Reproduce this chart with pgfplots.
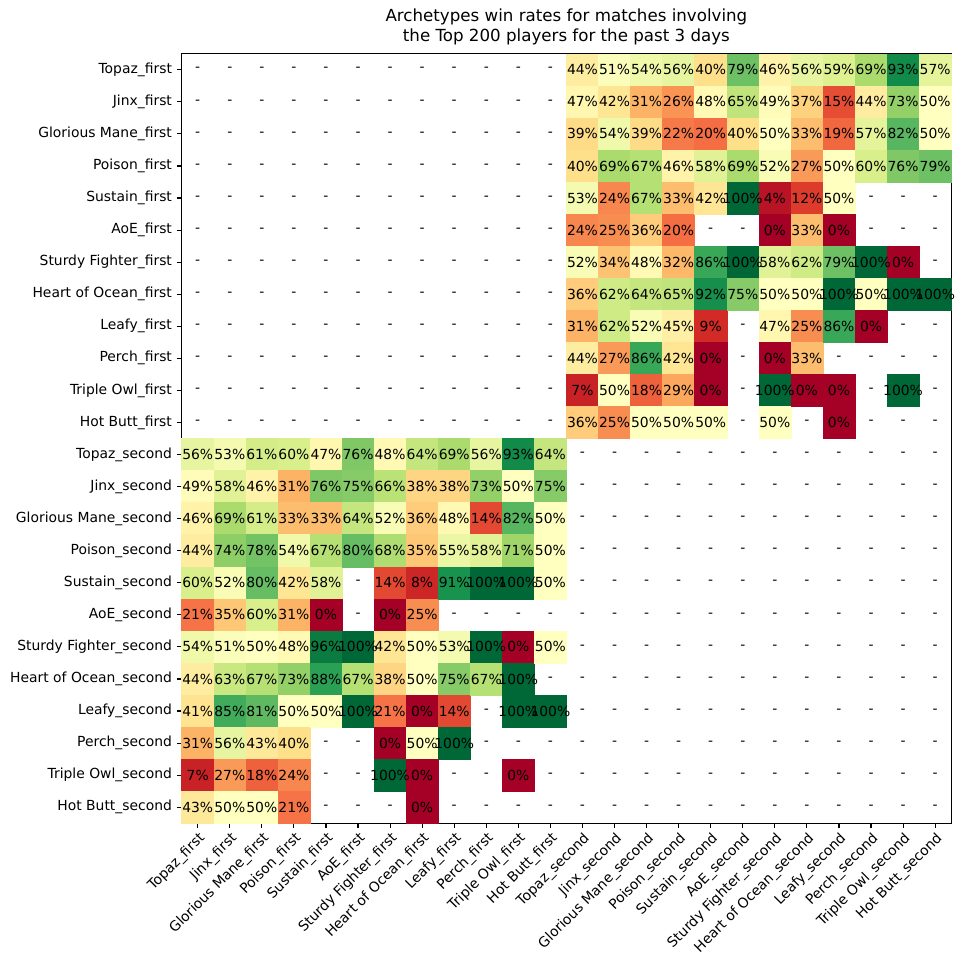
\documentclass[border=0pt]{standalone}
\usepackage{fontspec}
\setmainfont{DejaVu Sans}
\usepackage{pgfplots}
\usepackage{pgfplotstable}
\pgfplotsset{compat=1.18}

% ColorBrewer red-yellow-green diverging scale
\pgfplotsset{colormap={RdYlGn}{
  rgb255=(165,0,38) rgb255=(215,48,39) rgb255=(244,109,67) rgb255=(253,174,97)
  rgb255=(254,224,139) rgb255=(255,255,191) rgb255=(217,239,139) rgb255=(166,217,106)
  rgb255=(102,189,99) rgb255=(26,152,80) rgb255=(0,104,55)}}

% Win rates in percent: row r = archetype of the player, column cJ = archetype faced.
% Indices 0-11 are the *_first archetypes, 12-23 the *_second ones; -1 = no matches.
\pgfplotstableread{
r  c0 c1 c2 c3 c4 c5 c6 c7 c8 c9 c10 c11 c12 c13 c14 c15 c16 c17 c18 c19 c20 c21 c22 c23
0  -1 -1 -1 -1 -1 -1 -1 -1 -1 -1 -1 -1  44  51  54  56  40  79  46  56  59  69  93  57
1  -1 -1 -1 -1 -1 -1 -1 -1 -1 -1 -1 -1  47  42  31  26  48  65  49  37  15  44  73  50
2  -1 -1 -1 -1 -1 -1 -1 -1 -1 -1 -1 -1  39  54  39  22  20  40  50  33  19  57  82  50
3  -1 -1 -1 -1 -1 -1 -1 -1 -1 -1 -1 -1  40  69  67  46  58  69  52  27  50  60  76  79
4  -1 -1 -1 -1 -1 -1 -1 -1 -1 -1 -1 -1  53  24  67  33  42 100   4  12  50  -1  -1  -1
5  -1 -1 -1 -1 -1 -1 -1 -1 -1 -1 -1 -1  24  25  36  20  -1  -1   0  33   0  -1  -1  -1
6  -1 -1 -1 -1 -1 -1 -1 -1 -1 -1 -1 -1  52  34  48  32  86 100  58  62  79 100   0  -1
7  -1 -1 -1 -1 -1 -1 -1 -1 -1 -1 -1 -1  36  62  64  65  92  75  50  50 100  50 100 100
8  -1 -1 -1 -1 -1 -1 -1 -1 -1 -1 -1 -1  31  62  52  45   9  -1  47  25  86   0  -1  -1
9  -1 -1 -1 -1 -1 -1 -1 -1 -1 -1 -1 -1  44  27  86  42   0  -1   0  33  -1  -1  -1  -1
10 -1 -1 -1 -1 -1 -1 -1 -1 -1 -1 -1 -1   7  50  18  29   0  -1 100   0   0  -1 100  -1
11 -1 -1 -1 -1 -1 -1 -1 -1 -1 -1 -1 -1  36  25  50  50  50  -1  50  -1   0  -1  -1  -1
12 56 53 61 60 47 76 48 64 69 56 93 64  -1  -1  -1  -1  -1  -1  -1  -1  -1  -1  -1  -1
13 49 58 46 31 76 75 66 38 38 73 50 75  -1  -1  -1  -1  -1  -1  -1  -1  -1  -1  -1  -1
14 46 69 61 33 33 64 52 36 48 14 82 50  -1  -1  -1  -1  -1  -1  -1  -1  -1  -1  -1  -1
15 44 74 78 54 67 80 68 35 55 58 71 50  -1  -1  -1  -1  -1  -1  -1  -1  -1  -1  -1  -1
16 60 52 80 42 58 -1 14  8 91 100 100 50 -1  -1  -1  -1  -1  -1  -1  -1  -1  -1  -1  -1
17 21 35 60 31  0 -1  0 25 -1 -1 -1 -1  -1  -1  -1  -1  -1  -1  -1  -1  -1  -1  -1  -1
18 54 51 50 48 96 100 42 50 53 100 0 50  -1  -1  -1  -1  -1  -1  -1  -1  -1  -1  -1  -1
19 44 63 67 73 88 67 38 50 75 67 100 -1  -1  -1  -1  -1  -1  -1  -1  -1  -1  -1  -1  -1
20 41 85 81 50 50 100 21 0 14 -1 100 100 -1  -1  -1  -1  -1  -1  -1  -1  -1  -1  -1  -1
21 31 56 43 40 -1 -1  0 50 100 -1 -1 -1  -1  -1  -1  -1  -1  -1  -1  -1  -1  -1  -1  -1
22  7 27 18 24 -1 -1 100 0 -1 -1  0 -1  -1  -1  -1  -1  -1  -1  -1  -1  -1  -1  -1  -1
23 43 50 50 21 -1 -1 -1  0 -1 -1 -1 -1  -1  -1  -1  -1  -1  -1  -1  -1  -1  -1  -1  -1
}\winrates

\def\archetypes{Topaz\_first, Jinx\_first, Glorious Mane\_first, Poison\_first,
  Sustain\_first, AoE\_first, Sturdy Fighter\_first, Heart of Ocean\_first,
  Leafy\_first, Perch\_first, Triple Owl\_first, Hot Butt\_first,
  Topaz\_second, Jinx\_second, Glorious Mane\_second, Poison\_second,
  Sustain\_second, AoE\_second, Sturdy Fighter\_second, Heart of Ocean\_second,
  Leafy\_second, Perch\_second, Triple Owl\_second, Hot Butt\_second}

\begin{document}
\begin{tikzpicture}
\useasboundingbox (0,0) rectangle (694.8bp,696.2bp);
\begin{axis}[
  at={(130.8bp,103.5bp)}, anchor=south west,
  scale only axis, width=554bp, height=554bp,
  xmin=-0.5, xmax=23.5, ymin=-0.5, ymax=23.5, y dir=reverse,
  axis on top,
  axis line style={line width=0.8bp, black},
  tick align=outside,
  ytick pos=left, xtick pos=left, xticklabel pos=left,
  major tick length=3.5bp,
  tick style={line width=0.8bp, black},
  xtick={0,...,23}, ytick={0,...,23},
  xticklabels/.expand once=\archetypes,
  yticklabels/.expand once=\archetypes,
  x tick label style={rotate=45, anchor=north east, inner sep=1.5bp,
    font=\fontsize{10bp}{12bp}\selectfont},
  y tick label style={font=\fontsize{10bp}{12bp}\selectfont},
  colormap name=RdYlGn, point meta min=0, point meta max=100,
  /pgf/number format/assume math mode=true,
  every node near coord/.append style={font=\fontsize{10bp}{12bp}\selectfont,
    text=black, inner sep=0pt},
  title={Archetypes win rates for matches involving\\ the Top 200 players for the past 3 days},
  title style={inner sep=0pt, align=center,
    font=\fontsize{12bp}{14.4bp}\selectfont},
]
% coloured cells
\pgfplotsinvokeforeach{0,...,23}{
  \addplot[scatter, only marks, mark=square*, mark size=11.54bp, line width=0.3bp,
    scatter/use mapped color={draw=mapped color, fill=mapped color},
    point meta=explicit, restrict expr to domain={\thisrow{c#1}}{0:100}]
    table[x expr={#1}, y=r, meta=c#1] {\winrates};
}
% cell labels: value, or a dash where no matches were played
\pgfplotsinvokeforeach{0,...,23}{
  \addplot[only marks, mark=none, point meta=explicit,
    nodes near coords={\pgfmathprintnumber[fixed,precision=0]{\pgfplotspointmeta}\%},
    nodes near coords align={center},
    restrict expr to domain={\thisrow{c#1}}{0:100}]
    table[x expr={#1}, y=r, meta=c#1] {\winrates};
  \addplot[only marks, mark=none, point meta=explicit,
    nodes near coords={-}, nodes near coords align={center},
    restrict expr to domain={\thisrow{c#1}}{-1.5:-0.5}]
    table[x expr={#1}, y=r, meta=c#1] {\winrates};
}
\end{axis}
\end{tikzpicture}
\end{document}
